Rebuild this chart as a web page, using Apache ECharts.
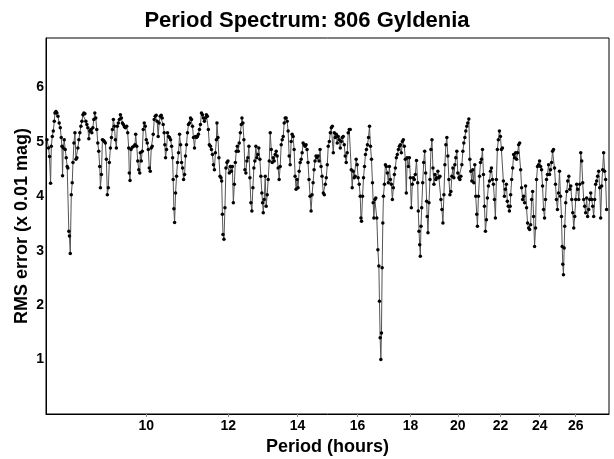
<!DOCTYPE html>
<html>
<head>
<meta charset="utf-8">
<script src="https://cdn.jsdelivr.net/npm/echarts@6/dist/echarts.min.js"></script>
<style>
  html, body { margin: 0; padding: 0; background: #fff; }
  #chart { width: 614px; height: 459px; }
</style>
</head>
<body>
<div id="chart"></div>
<script>
// period (hours) and RMS error (x 0.01 mag)
const periods = [
  8.017, 8.045, 8.063, 8.082, 8.095, 8.113, 8.131, 8.149, 8.161, 8.179, 8.197, 8.215, 8.238, 8.258, 8.276, 8.289, 8.300, 8.313, 8.331, 8.350,
  8.368, 8.386, 8.399, 8.417, 8.428, 8.444, 8.463, 8.481, 8.495, 8.513, 8.532, 8.551, 8.569, 8.588, 8.607, 8.626, 8.646, 8.666, 8.685, 8.704,
  8.723, 8.742, 8.761, 8.780, 8.800, 8.819, 8.840, 8.859, 8.879, 8.898, 8.918, 8.937, 8.957, 8.977, 8.996, 9.016, 9.030, 9.050, 9.070, 9.090,
  9.110, 9.130, 9.150, 9.170, 9.190, 9.210, 9.233, 9.254, 9.274, 9.294, 9.315, 9.335, 9.356, 9.376, 9.397, 9.419, 9.440, 9.461, 9.482, 9.503,
  9.524, 9.545, 9.574, 9.595, 9.616, 9.629, 9.645, 9.666, 9.694, 9.724, 9.752, 9.767, 9.790, 9.812, 9.834, 9.856, 9.868, 9.889, 9.911, 9.933,
  9.955, 9.977, 10.000, 10.022, 10.045, 10.067, 10.089, 10.111, 10.133, 10.156, 10.178, 10.200, 10.223, 10.245, 10.268, 10.290, 10.315, 10.338, 10.361, 10.383,
  10.406, 10.422, 10.438, 10.461, 10.484, 10.507, 10.530, 10.556, 10.580, 10.603, 10.617, 10.633, 10.650, 10.673, 10.697, 10.720, 10.744, 10.769, 10.793, 10.817,
  10.841, 10.865, 10.889, 10.912, 10.936, 10.960, 10.984, 11.010, 11.034, 11.059, 11.083, 11.107, 11.132, 11.156, 11.181, 11.205, 11.230, 11.256, 11.281, 11.306,
  11.331, 11.356, 11.381, 11.406, 11.431, 11.456, 11.481, 11.506, 11.535, 11.560, 11.586, 11.611, 11.637, 11.662, 11.688, 11.703, 11.729, 11.754, 11.783, 11.809,
  11.827, 11.845, 11.861, 11.887, 11.913, 11.939, 11.966, 11.992, 12.029, 12.058, 12.084, 12.111, 12.138, 12.164, 12.191, 12.218, 12.245, 12.271, 12.298, 12.328,
  12.355, 12.372, 12.399, 12.426, 12.454, 12.481, 12.508, 12.535, 12.565, 12.593, 12.621, 12.649, 12.677, 12.705, 12.733, 12.761, 12.789, 12.817, 12.845, 12.876,
  12.904, 12.933, 12.953, 12.973, 13.001, 13.030, 13.058, 13.087, 13.116, 13.147, 13.176, 13.206, 13.235, 13.264, 13.293, 13.322, 13.352, 13.381, 13.410, 13.440,
  13.472, 13.502, 13.532, 13.562, 13.592, 13.621, 13.651, 13.681, 13.711, 13.743, 13.773, 13.804, 13.834, 13.865, 13.895, 13.926, 13.956, 13.987, 14.017, 14.052,
  14.083, 14.115, 14.145, 14.176, 14.207, 14.239, 14.270, 14.301, 14.332, 14.363, 14.398, 14.430, 14.462, 14.494, 14.526, 14.557, 14.589, 14.621, 14.653, 14.688,
  14.721, 14.753, 14.786, 14.828, 14.861, 14.894, 14.926, 14.959, 14.991, 15.028, 15.061, 15.095, 15.128, 15.161, 15.195, 15.228, 15.261, 15.295, 15.328, 15.365,
  15.399, 15.433, 15.467, 15.501, 15.535, 15.569, 15.603, 15.637, 15.672, 15.709, 15.744, 15.779, 15.813, 15.848, 15.883, 15.918, 15.953, 15.988, 16.022, 16.062,
  16.098, 16.123, 16.144, 16.180, 16.215, 16.251, 16.286, 16.322, 16.358, 16.397, 16.433, 16.469, 16.506, 16.542, 16.568, 16.593, 16.630, 16.666, 16.702, 16.742,
  16.779, 16.801, 16.827, 16.853, 16.876, 16.902, 16.928, 16.950, 16.987, 17.025, 17.062, 17.099, 17.137, 17.177, 17.215, 17.253, 17.291, 17.329, 17.368, 17.406,
  17.444, 17.482, 17.524, 17.563, 17.602, 17.640, 17.679, 17.718, 17.757, 17.796, 17.835, 17.874, 17.917, 17.957, 17.997, 18.036, 18.076, 18.116, 18.156, 18.196,
  18.244, 18.294, 18.318, 18.347, 18.375, 18.400, 18.428, 18.457, 18.498, 18.539, 18.579, 18.620, 18.660, 18.685, 18.716, 18.758, 18.800, 18.841, 18.883, 18.924,
  18.966, 19.008, 19.049, 19.091, 19.133, 19.179, 19.222, 19.264, 19.307, 19.349, 19.392, 19.434, 19.477, 19.519, 19.562, 19.609, 19.652, 19.696, 19.739, 19.783,
  19.826, 19.870, 19.913, 19.957, 20.000, 20.049, 20.093, 20.138, 20.182, 20.227, 20.271, 20.316, 20.360, 20.405, 20.449, 20.498, 20.543, 20.589, 20.634, 20.680,
  20.725, 20.771, 20.816, 20.862, 20.894, 20.940, 20.991, 21.037, 21.083, 21.130, 21.176, 21.223, 21.269, 21.316, 21.362, 21.409, 21.461, 21.509, 21.556, 21.604,
  21.651, 21.699, 21.746, 21.794, 21.841, 21.889, 21.942, 21.991, 22.039, 22.088, 22.136, 22.185, 22.233, 22.282, 22.331, 22.379, 22.434, 22.473, 22.498, 22.548,
  22.598, 22.647, 22.697, 22.747, 22.796, 22.846, 22.901, 22.952, 23.002, 23.053, 23.104, 23.155, 23.206, 23.257, 23.307, 23.358, 23.415, 23.467, 23.519, 23.571,
  23.623, 23.675, 23.726, 23.778, 23.830, 23.882, 23.940, 23.993, 24.046, 24.099, 24.152, 24.205, 24.259, 24.312, 24.365, 24.418, 24.477, 24.531, 24.586, 24.640,
  24.694, 24.748, 24.803, 24.857, 24.911, 24.966, 25.025, 25.080, 25.136, 25.191, 25.230, 25.263, 25.302, 25.341, 25.374, 25.430, 25.486, 25.541, 25.604, 25.661,
  25.717, 25.774, 25.831, 25.888, 25.944, 26.001, 26.058, 26.119, 26.177, 26.235, 26.293, 26.351, 26.409, 26.467, 26.525, 26.583, 26.641, 26.699, 26.765, 26.824,
  26.884, 26.943, 27.002, 27.062, 27.121, 27.180, 27.240, 27.300, 27.365, 27.426, 27.486, 27.547, 27.608, 27.668, 27.729, 27.790, 27.850
]

const rmsValues = [
  5.04, 4.89, 4.73, 4.24, 4.92, 5.10, 5.20, 5.38, 5.53, 5.56, 5.53, 5.47, 5.35, 5.26, 5.08, 4.92, 4.38, 4.89, 5.04, 4.86,
  4.71, 4.55, 4.52, 3.36, 3.27, 2.95, 4.03, 4.25, 4.62, 4.98, 5.17, 4.68, 4.71, 4.89, 5.04, 5.17, 5.29, 5.38, 5.50, 5.53,
  5.52, 5.38, 5.32, 5.26, 5.06, 5.20, 5.23, 5.17, 5.26, 5.41, 5.53, 5.44, 5.23, 4.98, 4.83, 4.55, 4.16, 4.40, 5.04, 5.03,
  5.01, 4.98, 4.68, 4.03, 4.16, 4.62, 4.89, 5.08, 5.23, 5.41, 5.29, 5.04, 4.89, 5.29, 5.35, 5.41, 5.50, 5.44, 5.35, 5.32,
  5.28, 5.26, 5.29, 5.17, 4.89, 4.43, 4.29, 4.86, 4.90, 4.92, 4.95, 5.14, 4.92, 4.65, 4.49, 4.43, 4.80, 4.65, 4.83, 5.23,
  5.35, 5.29, 5.04, 4.98, 4.86, 4.52, 4.46, 4.89, 4.92, 5.14, 5.41, 5.47, 5.49, 5.38, 5.10, 5.35, 5.47, 5.49, 5.44, 5.32,
  5.17, 4.95, 4.71, 4.86, 5.17, 5.10, 5.08, 5.04, 4.92, 4.71, 4.31, 3.77, 3.52, 4.06, 4.37, 4.62, 4.80, 5.14, 4.95, 4.62,
  4.52, 4.31, 4.40, 4.74, 4.95, 5.17, 5.32, 5.35, 5.44, 5.41, 5.29, 5.08, 4.89, 5.10, 5.08, 5.10, 5.14, 5.23, 5.32, 5.53,
  5.50, 5.44, 5.38, 5.44, 5.50, 5.47, 5.23, 4.95, 4.92, 4.86, 4.77, 4.58, 4.49, 4.80, 5.04, 5.35, 5.08, 4.71, 4.37, 4.34,
  4.28, 3.67, 3.30, 3.21, 3.79, 4.52, 4.62, 4.65, 4.43, 4.55, 4.46, 4.55, 3.88, 4.22, 4.62, 4.83, 4.92, 4.83, 4.98, 5.17,
  5.32, 5.44, 5.35, 5.04, 4.49, 4.43, 4.65, 4.71, 4.92, 4.34, 3.88, 3.73, 4.16, 4.52, 4.65, 4.92, 4.71, 4.77, 4.89, 4.68,
  4.37, 4.06, 3.88, 3.70, 3.94, 4.37, 3.82, 4.03, 4.31, 4.65, 5.17, 4.86, 4.62, 4.71, 4.65, 4.77, 4.83, 4.74, 4.52, 4.31,
  4.55, 4.95, 5.04, 5.10, 5.35, 5.44, 5.44, 5.38, 5.20, 4.74, 4.58, 5.01, 5.14, 5.10, 4.86, 4.37, 4.13, 4.31, 4.16, 4.46,
  4.62, 4.68, 4.80, 4.98, 4.95, 4.92, 4.95, 4.86, 4.62, 4.31, 4.00, 3.73, 4.03, 4.25, 4.49, 4.65, 4.74, 4.71, 4.74, 4.65,
  4.86, 4.55, 4.37, 4.06, 4.03, 4.22, 4.34, 4.58, 4.92, 5.01, 5.17, 5.26, 5.29, 4.80, 5.17, 5.08, 5.14, 4.98, 5.10, 5.04,
  4.89, 5.01, 5.08, 5.10, 4.95, 4.74, 4.62, 4.80, 5.17, 5.23, 5.23, 4.49, 4.16, 4.46, 4.34, 4.37, 4.68, 4.58, 4.34, 4.22,
  4.00, 3.60, 3.54, 4.00, 4.34, 4.55, 4.77, 4.86, 4.95, 5.08, 5.29, 4.92, 4.68, 4.25, 3.88, 3.60, 3.94, 3.97, 3.60, 3.02,
  2.72, 2.07, 1.40, 1.00, 1.49, 2.69, 3.51, 4.00, 4.22, 4.58, 4.55, 4.43, 4.25, 4.55, 4.31, 4.22, 3.94, 4.16, 4.40, 4.52,
  4.71, 4.77, 4.86, 4.92, 4.95, 4.80, 5.01, 5.04, 4.92, 4.68, 4.06, 4.71, 4.55, 4.71, 4.34, 3.79, 4.22, 4.34, 4.31, 4.40,
  4.66, 4.25, 3.73, 3.36, 3.11, 2.90, 3.45, 3.79, 4.25, 4.62, 4.83, 4.43, 3.91, 3.63, 3.33, 3.88, 4.31, 4.86, 5.04, 4.52,
  4.22, 4.40, 4.31, 4.34, 4.46, 4.34, 4.37, 3.94, 3.76, 3.51, 4.03, 4.58, 4.95, 5.08, 4.74, 4.31, 4.03, 4.09, 4.37, 4.52,
  4.34, 4.58, 4.71, 4.83, 4.43, 4.34, 4.31, 4.37, 4.58, 4.83, 4.98, 5.08, 5.20, 5.29, 5.35, 5.42, 4.68, 4.46, 4.28, 4.49,
  4.25, 4.58, 4.00, 3.67, 3.45, 4.00, 4.37, 4.62, 4.68, 4.86, 4.40, 3.82, 3.36, 3.57, 3.97, 4.19, 4.28, 4.46, 4.52, 4.31,
  4.22, 3.94, 3.60, 4.31, 4.86, 5.04, 5.20, 5.10, 4.86, 4.89, 4.28, 4.00, 4.13, 4.22, 3.91, 3.82, 3.73, 3.82, 4.03, 4.31,
  4.52, 4.77, 4.71, 4.80, 4.68, 4.80, 4.95, 4.98, 4.49, 4.16, 3.94, 4.00, 3.88, 4.19, 3.79, 3.51, 3.42, 3.39, 3.48, 3.94,
  4.09, 3.63, 3.08, 3.42, 4.31, 4.55, 4.58, 4.65, 4.55, 4.49, 4.19, 3.76, 3.60, 3.94, 4.31, 4.40, 4.58, 4.40, 4.49, 4.62,
  4.83, 4.86, 4.52, 4.22, 3.94, 3.76, 4.06, 4.46, 4.00, 3.63, 3.08, 2.75, 2.56, 3.05, 3.45, 3.88, 4.09, 4.28, 4.37, 4.13,
  4.19, 3.94, 3.70, 3.42, 3.63, 3.94, 4.22, 4.13, 3.94, 4.22, 4.80, 4.65, 4.25, 3.94, 3.82, 3.70, 3.97, 3.63, 3.76, 3.94,
  4.06, 3.94, 3.82, 3.63, 3.94, 4.22, 4.28, 4.37, 4.46, 4.16, 3.60, 4.19, 4.49, 4.80, 4.46, 4.31, 3.76
]

const periodTicks = [10, 12, 14, 16, 18, 20, 22, 24, 26]
const rmsTicks = [1, 2, 3, 4, 5, 6]

// the period axis is logarithmic: plot ln(period) on a value axis
const seriesData = periods.map((p, i) => [Math.log(p), rmsValues[i]])
const logTicks = periodTicks.map(t => Math.log(t))

const chart = echarts.init(document.getElementById('chart'), null, { renderer: 'canvas' })

const font = 'Liberation Sans, Arial, sans-serif'

chart.setOption({
  animation: false,
  backgroundColor: '#fff',
  title: {
    text: 'Period Spectrum: 806 Gyldenia',
    left: 'center',
    top: 5,
    textStyle: { fontFamily: font, fontSize: 22, fontWeight: 'bold', color: '#000' }
  },
  grid: {
    left: 46,
    right: 5,
    top: 38,
    bottom: 45,
    outerBoundsMode: 'none',
    show: true,
    borderColor: '#000',
    borderWidth: 1
  },
  xAxis: {
    type: 'value',
    min: Math.log(8),
    max: Math.log(28),
    name: 'Period (hours)',
    nameLocation: 'middle',
    nameGap: 24,
    nameMoveOverlap: false,
    nameTextStyle: { fontFamily: font, fontSize: 18, fontWeight: 'bold', color: '#000' },
    axisLine: { lineStyle: { color: '#000', width: 1 } },
    axisTick: { customValues: logTicks, length: 3, lineStyle: { color: '#888' } },
    axisLabel: {
      customValues: logTicks,
      formatter: v => String(Math.round(Math.exp(v))),
      fontFamily: font, fontSize: 14, fontWeight: 'bold', color: '#000', margin: 5
    },
    splitLine: { show: false }
  },
  yAxis: {
    type: 'value',
    min: 0,
    max: 6.91,
    name: 'RMS error (x 0.01 mag)',
    nameLocation: 'middle',
    nameGap: 15,
    nameMoveOverlap: false,
    nameTextStyle: { fontFamily: font, fontSize: 18, fontWeight: 'bold', color: '#000' },
    axisLine: { show: true, lineStyle: { color: '#000', width: 1 } },
    axisTick: { show: false },
    axisLabel: {
      customValues: rmsTicks,
      fontFamily: font, fontSize: 14, fontWeight: 'bold', color: '#000', margin: 2
    },
    splitLine: { show: false }
  },
  series: [{
    type: 'line',
    data: seriesData,
    symbol: 'circle',
    symbolSize: 3.5,
    showAllSymbol: true,
    itemStyle: { color: '#000' },
    lineStyle: { color: '#555', width: 1 }
  }]
})
</script>
</body>
</html>
